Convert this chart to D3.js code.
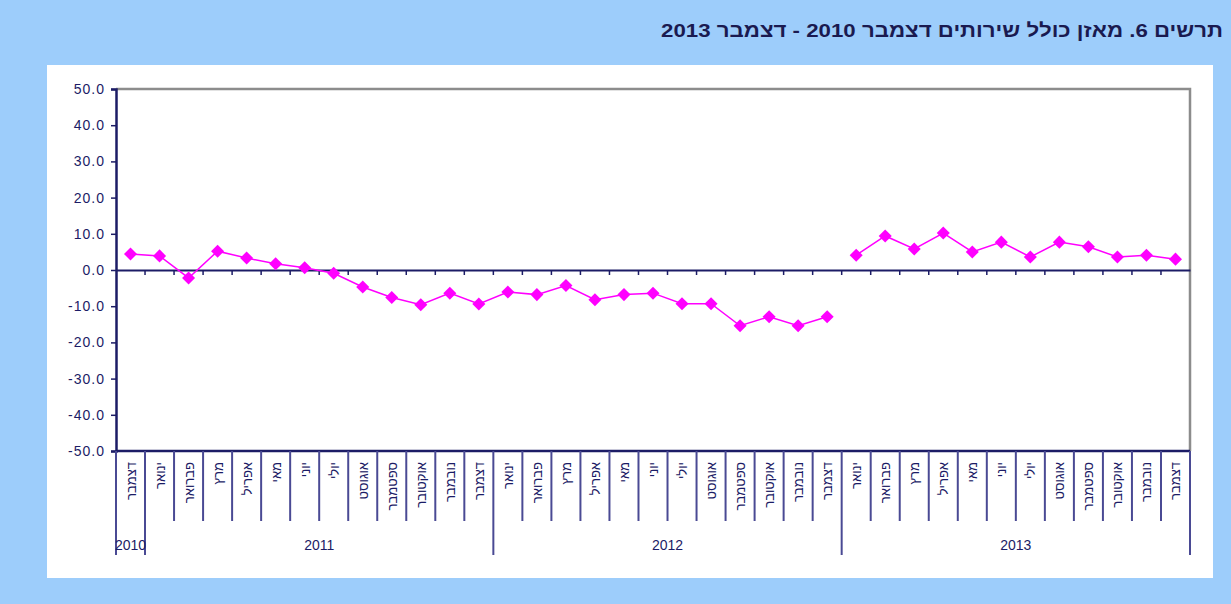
<!DOCTYPE html>
<html>
<head>
<meta charset="utf-8">
<script src="https://cdn.jsdelivr.net/npm/d3@7"></script>
<style>
  body { margin: 0; background: #9dcdfb; }
  svg { display: block; font-family: "Liberation Sans", Arial, sans-serif; }
</style>
</head>
<body>
<div id="chart"></div>
<script>
const title = "תרשים 6. מאזן כולל שירותים דצמבר 2010 - דצמבר 2013";

const monthNames = ["ינואר", "פברואר", "מרץ", "אפריל", "מאי", "יוני", "יולי", "אוגוסט", "ספטמבר", "אוקטובר", "נובמבר", "דצמבר"];
const years = ["2010", "2011", "2012", "2013"];
const yearMonths = [[12], [1,2,3,4,5,6,7,8,9,10,11,12], [1,2,3,4,5,6,7,8,9,10,11,12], [1,2,3,4,5,6,7,8,9,10,11,12]];

// Dec 2010 - Dec 2012 (one line), then 2013 drawn as its own line
const values2010to2012 = [4.4, 3.9, -2.2, 5.2, 3.3, 1.7, 0.6, -0.9, -4.7, -7.6, -9.6, -6.4, -9.4,
                          -6.1, -6.8, -4.3, -8.2, -6.8, -6.4, -9.3, -9.3, -15.4, -12.9, -15.4, -12.9];
const values2013 = [4.1, 9.4, 5.8, 10.2, 5.0, 7.7, 3.6, 7.7, 6.4, 3.6, 4.1, 3.0];

const yTicks = [50, 40, 30, 20, 10, 0, -10, -20, -30, -40, -50];

const W = 1231, H = 604;
const navy = "#1c1c66";
const sepColor = "#4a4a94";
const pink = "#ff00ff";

// categories
const cats = [];
years.forEach((yr, i) => yearMonths[i].forEach(m => cats.push({year: yr, month: m, key: yr + "-" + m})));

const svg = d3.select("#chart").append("svg").attr("width", W).attr("height", H);

svg.append("rect").attr("width", W).attr("height", H).attr("fill", "#9dcdfb");
svg.append("rect").attr("x", 47).attr("y", 65).attr("width", 1166).attr("height", 513).attr("fill", "#fff");

svg.append("text")
    .attr("x", 1223).attr("y", 37)
    .attr("direction", "rtl")
    .attr("text-anchor", "start")
    .attr("font-size", 19).attr("font-weight", "bold")
    .attr("textLength", 562).attr("lengthAdjust", "spacingAndGlyphs")
    .attr("fill", "#1a1a50")
    .text(title);

const plotL = 116, plotR = 1190, plotT = 89, plotB = 451;

const x = d3.scaleBand().domain(cats.map(d => d.key)).range([plotL, plotR]);
const y = d3.scaleLinear().domain([-50, 50]).range([plotB, plotT]);

// plot frame top/right (gray)
svg.append("path")
    .attr("d", `M${plotL},${plotT}H${plotR}V${plotB}`)
    .attr("fill", "none").attr("stroke", "#8c8c8c").attr("stroke-width", 2.5);

// y axis
const yAxis = svg.append("g")
    .attr("transform", `translate(${plotL},0)`)
    .call(d3.axisLeft(y).tickValues(yTicks).tickFormat(d => d.toFixed(1)).tickSize(5).tickPadding(6));
yAxis.select(".domain").attr("stroke", navy).attr("stroke-width", 2.5);
yAxis.selectAll(".tick line").attr("stroke", navy).attr("stroke-width", 1.5);
yAxis.selectAll(".tick text")
    .attr("fill", navy).attr("font-size", 14)
    .attr("font-family", "'Liberation Sans', Arial, sans-serif")
    .attr("letter-spacing", 1);

// zero line with tick marks
const zeroAxis = svg.append("g")
    .attr("transform", `translate(0,${y(0)})`)
    .call(d3.axisBottom(x).tickValues(cats.map(d => d.key).slice(1)).tickFormat("").tickSize(5).tickSizeOuter(0));
zeroAxis.select(".domain").attr("stroke", navy).attr("stroke-width", 2);
zeroAxis.selectAll(".tick line")
    .attr("transform", `translate(${-x.bandwidth() / 2},0)`)
    .attr("stroke", navy).attr("stroke-width", 1.5);

// bottom axis line
svg.append("line")
    .attr("x1", plotL).attr("x2", plotR).attr("y1", plotB).attr("y2", plotB)
    .attr("stroke", navy).attr("stroke-width", 2.5);

// category separators
const yearStart = new Set(years.map(yv => cats.find(c => c.year === yv).key));
cats.forEach(c => {
    const xs = x(c.key);
    const long = yearStart.has(c.key);
    svg.append("line")
        .attr("x1", xs).attr("x2", xs)
        .attr("y1", plotB).attr("y2", long ? 555 : 521)
        .attr("stroke", sepColor).attr("stroke-width", 2);
});
svg.append("line")
    .attr("x1", plotR).attr("x2", plotR).attr("y1", plotB).attr("y2", 555)
    .attr("stroke", sepColor).attr("stroke-width", 2);

// month labels
svg.append("g").selectAll("text")
    .data(cats)
    .join("text")
    .attr("transform", d => `translate(${x(d.key) + x.bandwidth() / 2 + 5},462) rotate(-90)`)
    .attr("text-anchor", "end")
    .attr("font-size", 13)
    .attr("fill", navy)
    .text(d => monthNames[d.month - 1]);

// year labels
years.forEach(yv => {
    const ks = cats.filter(c => c.year === yv).map(c => c.key);
    const x0 = x(ks[0]), x1 = x(ks[ks.length - 1]) + x.bandwidth();
    svg.append("text")
        .attr("x", (x0 + x1) / 2).attr("y", 550)
        .attr("text-anchor", "middle")
        .attr("font-size", 14)
        .attr("fill", navy)
        .text(yv);
});

// series
const keysA = cats.slice(0, values2010to2012.length).map(c => c.key);
const keysB = cats.filter(c => c.year === "2013").map(c => c.key);
const segments = [
    values2010to2012.map((v, i) => ({key: keysA[i], v})),
    values2013.map((v, i) => ({key: keysB[i], v}))
];

const line = d3.line()
    .x(d => x(d.key) + x.bandwidth() / 2)
    .y(d => y(d.v));

segments.forEach(seg => {
    svg.append("path")
        .datum(seg)
        .attr("d", line)
        .attr("fill", "none")
        .attr("stroke", pink)
        .attr("stroke-width", 1.5);
    svg.append("g").selectAll("path")
        .data(seg)
        .join("path")
        .attr("d", d3.symbol(d3.symbolSquare, 85))
        .attr("transform", d => `translate(${x(d.key) + x.bandwidth() / 2},${y(d.v)}) rotate(45)`)
        .attr("fill", pink);
});
</script>
</body>
</html>
